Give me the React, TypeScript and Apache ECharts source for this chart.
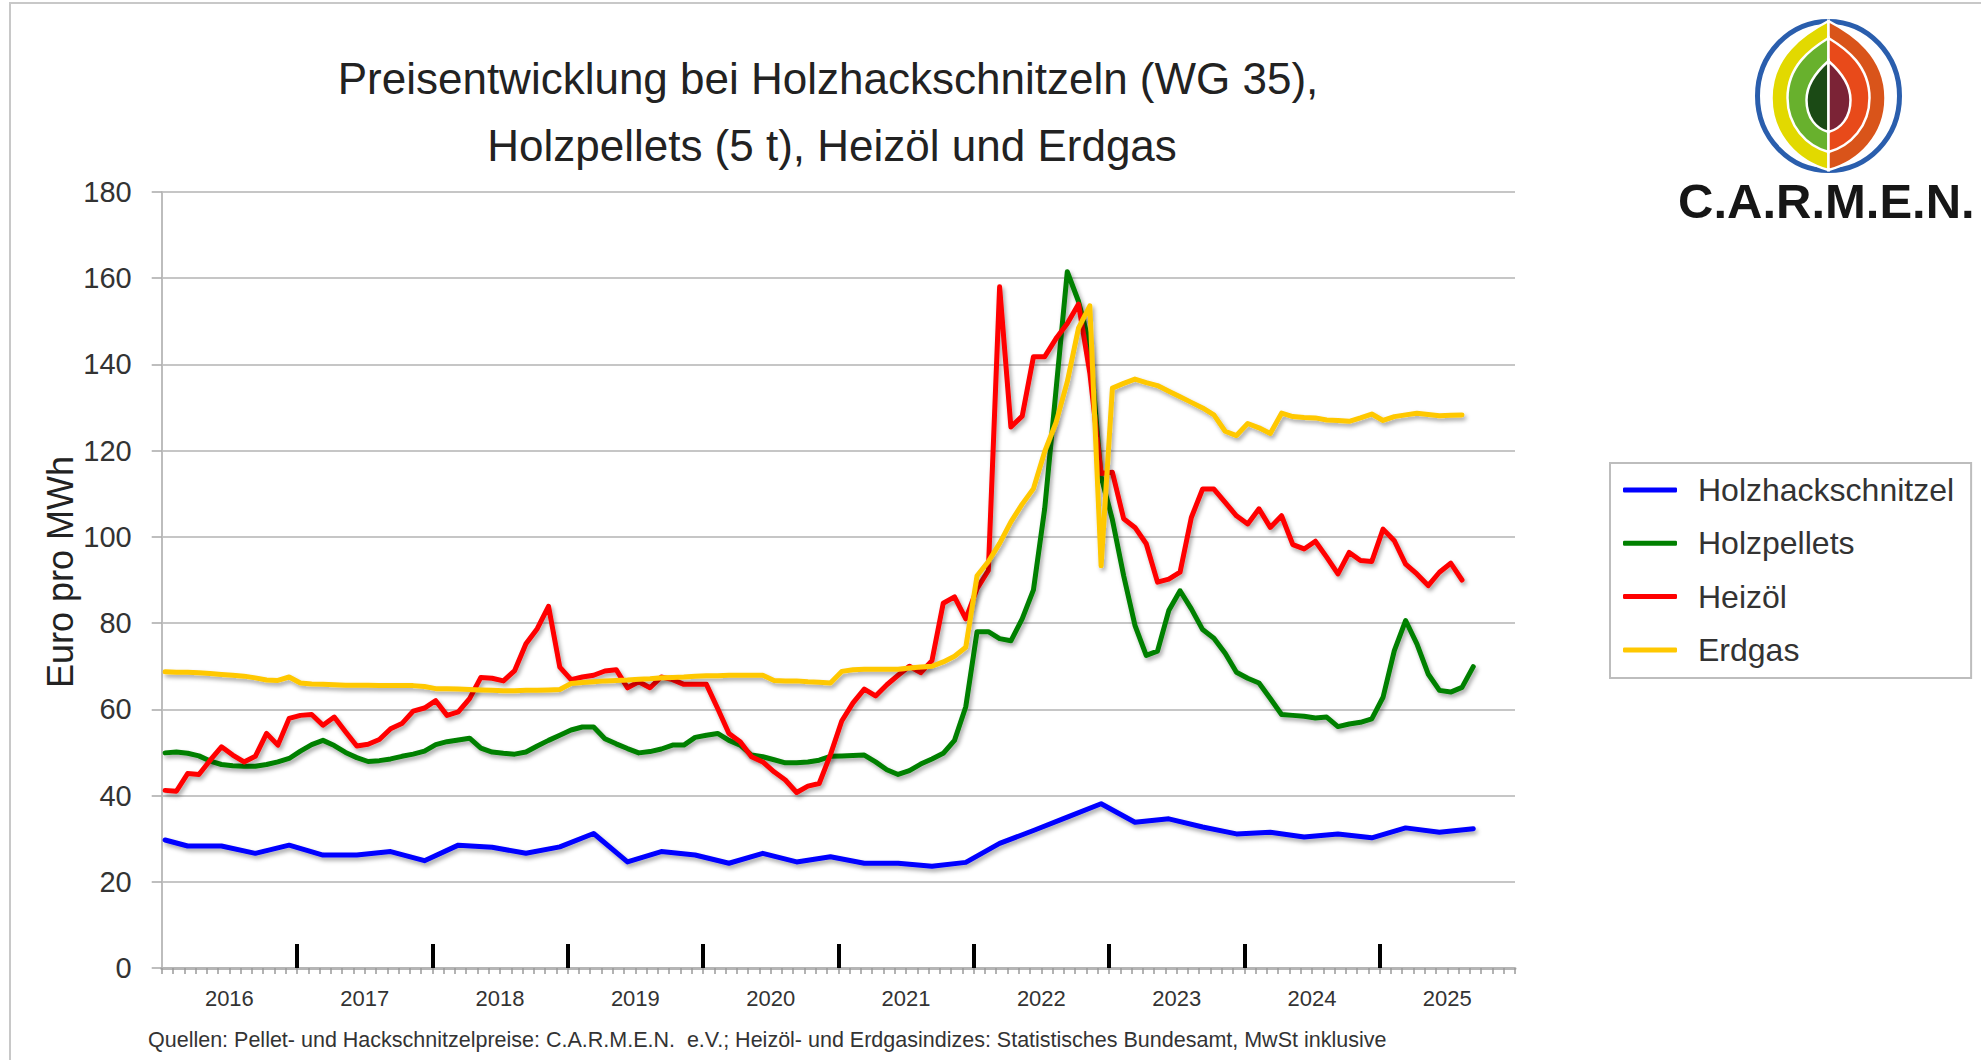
import React, { useEffect, useRef } from "react";
import * as echarts from "echarts";

// ---------- data ----------
const YEARS = ["2016", "2017", "2018", "2019", "2020", "2021", "2022", "2023", "2024", "2025"];
const SERIES_NAMES = ["Holzhackschnitzel", "Holzpellets", "Heizöl", "Erdgas"];
const SERIES_COLORS = ["#0000ff", "#008000", "#ff0000", "#ffc800"];
const Y_MAX = 180;
const Y_STEP = 20;
const MONTHS_TOTAL = 120; // Jan 2016 .. Dec 2025
const MONTH_OFFSET = 0.3; // position of a value inside its month

// Holzhackschnitzel: quarterly values (month index from Jan 2016)
const HACK_MONTHS = [0, 2, 5, 8, 11, 14, 17, 20, 23, 26, 29, 32, 35, 38, 41, 44, 47, 50, 53, 56, 59, 62, 65, 68, 71, 74, 77, 80, 83, 86, 89, 92, 95, 98, 101, 104, 107, 110, 113, 116];
const HACK_VALUES = [29.7, 28.3, 28.3, 26.6, 28.5, 26.2, 26.2, 27, 24.9, 28.5, 28, 26.6, 28.1, 31.2, 24.6, 27, 26.2, 24.3, 26.6, 24.6, 25.8, 24.3, 24.3, 23.6, 24.5, 28.9, 31.9, 35, 38.1, 33.8, 34.6, 32.7, 31.1, 31.5, 30.4, 31.1, 30.2, 32.5, 31.5, 32.3];

// monthly values from Jan 2016
const PELLETS = [
  49.9, 50.1, 49.8, 49.2, 48, 47.2, 46.9, 46.8, 46.8, 47.2, 47.8, 48.6,
  50.3, 51.8, 52.8, 51.6, 50, 48.8, 47.9, 48.1, 48.5, 49.1, 49.6, 50.3,
  51.8, 52.5, 52.9, 53.3, 51, 50.1, 49.8, 49.6, 50.1, 51.5, 52.8, 54,
  55.2, 55.9, 55.9, 53.2, 52, 50.9, 49.9, 50.2, 50.8, 51.7, 51.7, 53.5,
  54, 54.4, 52.8, 51.7, 49.4, 49, 48.3, 47.6, 47.6, 47.8, 48.2, 49.1,
  49.2, 49.3, 49.4, 47.8, 46, 44.9, 45.8, 47.3, 48.5, 49.8, 52.8, 60.6,
  78, 78, 76.4, 75.9, 81, 87.7, 106.6, 134, 161.5, 154.6, 144.4, 114,
  104, 91, 79.5, 72.5, 73.5, 82.9, 87.5, 83.3, 78.5, 76.5, 73, 68.6,
  67.2, 66.1, 62.5, 58.8, 58.6, 58.4, 58, 58.2, 56, 56.6, 57, 57.8,
  62.8, 73.6, 80.6, 75.2, 68.2, 64.4, 64, 65.1, 69.9,
];

const HEIZOEL = [
  41.2, 41, 45.1, 44.9, 48.2, 51.3, 49.4, 47.8, 49.1, 54.4, 51.7, 57.9,
  58.6, 58.8, 56.3, 58.2, 54.8, 51.5, 51.9, 53, 55.5, 56.7, 59.6, 60.3,
  62, 58.6, 59.4, 62.5, 67.4, 67.2, 66.6, 69, 75.2, 78.7, 83.9, 69.8,
  66.9, 67.5, 67.9, 68.9, 69.2, 65, 66.4, 65, 67.5, 66.9, 65.8, 65.8,
  65.8, 60.2, 54.4, 52.5, 49, 47.8, 45.5, 43.6, 40.7, 42.2, 42.8, 49.5,
  57.3, 61.5, 64.7, 63.1, 65.7, 67.9, 70, 68.5, 71.3, 84.6, 86.1, 81,
  88, 92.2, 158, 125.5, 128, 141.8, 141.8, 146, 149.5, 154, 138, 114.7,
  115, 104.2, 102.2, 98.4, 89.5, 90.2, 91.8, 104.5, 111.1, 111.1, 108, 104.9,
  103, 106.5, 102.2, 104.9, 98.2, 97.2, 99, 95.3, 91.4, 96.4, 94.5, 94.3,
  101.8, 99.1, 93.7, 91.4, 88.7, 91.8, 93.9, 90,
];

const ERDGAS = [
  68.7, 68.6, 68.6, 68.5, 68.3, 68.1, 67.9, 67.7, 67.3, 66.8, 66.7, 67.5,
  66.1, 65.9, 65.8, 65.7, 65.6, 65.6, 65.6, 65.5, 65.5, 65.5, 65.5, 65.3,
  64.8, 64.8, 64.7, 64.6, 64.5, 64.4, 64.3, 64.3, 64.4, 64.4, 64.5, 64.6,
  66, 66.2, 66.4, 66.6, 66.7, 66.8, 67, 67.1, 67.3, 67.4, 67.5, 67.7,
  67.8, 67.8, 67.9, 67.9, 67.9, 67.9, 66.7, 66.6, 66.6, 66.4, 66.3, 66.1,
  68.8, 69.2, 69.3, 69.3, 69.3, 69.3, 69.6, 69.8, 70, 71, 72.3, 74.4,
  91, 94.3, 98.5, 103.5, 107.6, 111.2, 119.8, 126.5, 136, 148.5, 153.6, 93.3,
  134.5, 135.6, 136.6, 135.8, 135.1, 133.8, 132.5, 131.2, 129.9, 128.3, 124.5, 123.5,
  126.3, 125.3, 124, 128.7, 127.9, 127.7, 127.6, 127.1, 127, 126.8, 127.6, 128.5,
  127, 127.9, 128.3, 128.7, 128.4, 128.1, 128.2, 128.3,
];

const TITLE_LINES = ["Preisentwicklung bei Holzhackschnitzeln (WG 35),", "Holzpellets (5 t), Heizöl und Erdgas"];
const Y_NAME = "Euro pro MWh";
const FOOTER = "Quellen: Pellet- und Hackschnitzelpreise: C.A.R.M.E.N.  e.V.; Heizöl- und Erdgasindizes: Statistisches Bundesamt, MwSt inklusive";
const LOGO_TEXT = "C.A.R.M.E.N.";

const FONT = "'Liberation Sans', Arial, sans-serif";

function monthly(values: number[]) {
  return values.map((v, i) => [i + MONTH_OFFSET, v]);
}

function registerLogoShapes() {
  echarts.graphic.registerShape(
    "lensOuter",
    echarts.graphic.extendPath("M0,-75 C-25,-62 -57,-40 -57,2 C-57,40 -30,66 0,74 Z", {})
  );
  echarts.graphic.registerShape(
    "lensMid",
    echarts.graphic.extendPath("M0,-58 C-18,-47 -41,-30 -41,2 C-41,30 -22,50 0,56 Z", {})
  );
  echarts.graphic.registerShape(
    "lensCore",
    echarts.graphic.extendPath("M0,-35 C-8,-28 -22,-14 -22,4 C-22,22 -12,33 0,36 Z", {})
  );
}

export default function App() {
  const ref = useRef<HTMLDivElement>(null);

  useEffect(() => {
    if (!ref.current) return;
    registerLogoShapes();
    const chart = echarts.init(ref.current, null, { renderer: "svg", width: 1981, height: 1060 });

    const lineSeries = (name: string, color: string, data: number[][]) => ({
      name,
      type: "line",
      xAxisIndex: 0,
      yAxisIndex: 0,
      data,
      showSymbol: false,
      symbol: "none",
      color,
      itemStyle: { color },
      lineStyle: {
        color,
        width: 5,
        cap: "round",
        join: "round",
        shadowColor: "rgba(0,0,0,0.35)",
        shadowBlur: 4,
        shadowOffsetX: 2,
        shadowOffsetY: 3,
      },
      emphasis: { disabled: true },
      z: 3,
    });

    const yearTicks: number[] = [];
    for (let m = 12; m < MONTHS_TOTAL; m += 12) yearTicks.push(m);

    const cx = 1828.5;
    const cy = 96;
    const logoParts: any[] = [];
    const leftColors = ["#e2d900", "#68b12d", "#1b4a15"];
    const rightColors = ["#d9541a", "#e84a1a", "#7b2336"];
    const shapes = ["lensOuter", "lensMid", "lensCore"];
    shapes.forEach((s, i) => {
      logoParts.push({
        type: s, x: cx, y: cy, scaleX: 1, scaleY: 1,
        style: { fill: leftColors[i], stroke: "#ffffff", lineWidth: 2.5 },
      });
      logoParts.push({
        type: s, x: cx, y: cy, scaleX: -1, scaleY: 1,
        style: { fill: rightColors[i], stroke: "#ffffff", lineWidth: 2.5 },
      });
    });

    const option: any = {
      animation: false,
      backgroundColor: "#ffffff",
      textStyle: { fontFamily: FONT },
      grid: { left: 161.7, right: 466, top: 192, bottom: 92, containLabel: false },
      legend: {
        orient: "vertical",
        left: 1610,
        top: 463,
        padding: [9, 17, 10, 13],
        itemGap: 17.3,
        itemWidth: 54,
        itemHeight: 5,
        icon: "roundRect",
        borderColor: "#bdbdbd",
        borderWidth: 2,
        backgroundColor: "#ffffff",
        selectedMode: false,
        data: SERIES_NAMES,
        textStyle: { fontFamily: FONT, fontSize: 32, color: "#333333", lineHeight: 36, padding: [0, 0, 0, 16] },
      },
      xAxis: [
        {
          type: "value",
          position: "bottom",
          min: 0,
          max: MONTHS_TOTAL,
          interval: 1,
          axisLine: { show: true, lineStyle: { color: "#b5b5b5", width: 3 } },
          axisTick: { show: true, inside: false, length: 6, lineStyle: { color: "#9a9a9a", width: 1.5 } },
          axisLabel: { show: false },
          splitLine: { show: false },
        },
        {
          type: "value",
          position: "bottom",
          min: 0,
          max: MONTHS_TOTAL,
          interval: 12,
          axisLine: { show: false },
          axisTick: { show: true, inside: true, length: 24, lineStyle: { color: "#000000", width: 4 }, customValues: yearTicks },
          axisLabel: { show: false },
          splitLine: { show: false },
        },
        {
          type: "category",
          position: "bottom",
          data: YEARS,
          boundaryGap: true,
          axisLine: { show: false },
          axisTick: { show: false },
          axisLabel: { show: true, interval: 0, fontFamily: FONT, fontSize: 22, color: "#333333", margin: 19 },
          splitLine: { show: false },
        },
      ],
      yAxis: {
        type: "value",
        min: 0,
        max: Y_MAX,
        interval: Y_STEP,
        axisLine: { show: true, lineStyle: { color: "#bdbdbd", width: 2 } },
        axisTick: { show: true, inside: false, length: 10, lineStyle: { color: "#a8a8a8", width: 1.5 } },
        axisLabel: { fontFamily: FONT, fontSize: 29, color: "#333333", margin: 30 },
        splitLine: { show: true, lineStyle: { color: "#c6c6c6", width: 2 } },
      },
      series: [
        lineSeries(SERIES_NAMES[0], SERIES_COLORS[0], HACK_MONTHS.map((m, i) => [m + MONTH_OFFSET, HACK_VALUES[i]])),
        lineSeries(SERIES_NAMES[1], SERIES_COLORS[1], monthly(PELLETS)),
        lineSeries(SERIES_NAMES[2], SERIES_COLORS[2], monthly(HEIZOEL)),
        lineSeries(SERIES_NAMES[3], SERIES_COLORS[3], monthly(ERDGAS)),
      ],
      graphic: [
        {
          type: "rect",
          shape: { x: 10, y: 3, width: 2100, height: 1200 },
          style: { fill: "none", stroke: "#c8c8c8", lineWidth: 2 },
          silent: true,
          z: 0,
        },
        {
          type: "text", x: 828, y: 78,
          style: { text: TITLE_LINES[0], fontFamily: FONT, fontSize: 44, fill: "#222222", textAlign: "center", textVerticalAlign: "middle" },
        },
        {
          type: "text", x: 832, y: 145,
          style: { text: TITLE_LINES[1], fontFamily: FONT, fontSize: 44, fill: "#222222", textAlign: "center", textVerticalAlign: "middle" },
        },
        {
          type: "text", x: 60, y: 572, rotation: Math.PI / 2,
          style: { text: Y_NAME, fontFamily: FONT, fontSize: 36, fill: "#222222", textAlign: "center", textVerticalAlign: "middle" },
        },
        {
          type: "text", x: 148, y: 1040,
          style: { text: FOOTER, fontFamily: FONT, fontSize: 21.5, fill: "#333333", textAlign: "left", textVerticalAlign: "middle" },
        },
        {
          type: "ellipse",
          shape: { cx, cy, rx: 71, ry: 74.5 },
          style: { fill: "none", stroke: "#2a5ead", lineWidth: 5 },
        },
        ...logoParts,
        {
          type: "text", x: 1678, y: 201,
          style: { text: LOGO_TEXT, fontFamily: FONT, fontSize: 49, fontWeight: "bold", fill: "#161616", textAlign: "left", textVerticalAlign: "middle" },
        },
      ],
    };

    chart.setOption(option);
    return () => chart.dispose();
  }, []);

  return (
    <div
      ref={ref}
      style={{ position: "fixed", left: 0, top: 0, width: 1981, height: 1060, background: "#ffffff" }}
    />
  );
}
